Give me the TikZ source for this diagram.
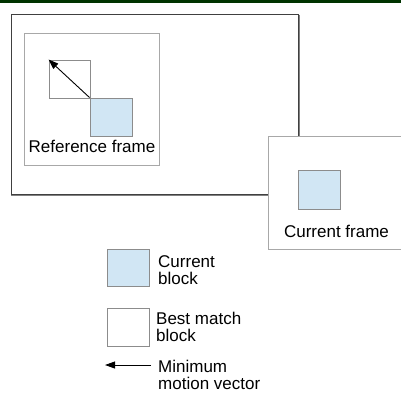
\documentclass[tikz,border=0pt]{standalone}
\usepackage{fontspec}
\setmainfont{Liberation Sans}
\usetikzlibrary{arrows.meta}

\definecolor{barGreen}{HTML}{003300}
\definecolor{blockBlue}{HTML}{D1E6F4}
\definecolor{frameGray}{HTML}{A8A8A8}
\definecolor{blockGray}{HTML}{8C8C8C}

\begin{document}
\begin{tikzpicture}[x=1pt,y=-1pt]
    \tikzset{frame/.style = {shape=rectangle,draw=frameGray,fill=white,line width=1pt,inner sep=0pt}}
    \tikzset{block/.style = {shape=rectangle,draw=blockGray,line width=1pt,inner sep=0pt}}
    \tikzset{curblock/.style = {block,fill=blockBlue}}
    \tikzset{label/.style = {font=\fontsize{17}{17}\selectfont,inner sep=0pt}}
    \tikzset{vector/.style = {-{Triangle[length=10pt,width=7pt]},line width=0.9pt}}
    \useasboundingbox (0,0) rectangle (401,392);
    % top bar
    \fill[barGreen] (0,0) rectangle (401,2.5);
    % frames
    \node[shape=rectangle,draw=gray,line width=1.5pt,minimum width=287pt,minimum height=180pt] (search shadow) at (155.5,105.5) {};
    \node[frame,draw=black!75,minimum width=287pt,minimum height=180pt] (search) at (154.5,104.5) {};
    \node[frame,minimum width=134.5pt,minimum height=132pt] (ref) at (91.75,99) {};
    \node[frame,minimum width=133pt,minimum height=113pt] (cur) at (334.5,192.5) {};
    % blocks
    \node[block,minimum width=41pt,minimum height=38pt] (best) at (69.5,79) {};
    \node[curblock,minimum width=42pt,minimum height=38pt] (refblock) at (111,117) {};
    \node[curblock,minimum width=42pt,minimum height=39pt] (curblock) at (319,189.5) {};
    % frame labels
    \node[label,anchor=base] (ref label) at (92,152) {Reference frame};
    \node[label,anchor=base] (cur label) at (336.5,237) {Current frame};
    % motion vector
    \draw[vector] (refblock.north west) -- (best.north west);
    % legend
    \node[curblock,minimum width=42pt,minimum height=37pt] (key cur) at (128,267.5) {};
    \node[block,minimum width=42pt,minimum height=38pt] (key best) at (128,327) {};
    \coordinate (key start) at (151,365);
    \coordinate (key end) at (105,365);
    \draw[vector] (key start) -- (key end);
    \node[label,anchor=north west,align=left] (key cur text) at (158,255.5) {Current\\block};
    \node[label,anchor=north west,align=left] (key best text) at (156,312) {Best match\\block};
    \node[label,anchor=north west,align=left] (key vec text) at (158,359.5) {Minimum\\motion vector};
\end{tikzpicture}
\end{document}
